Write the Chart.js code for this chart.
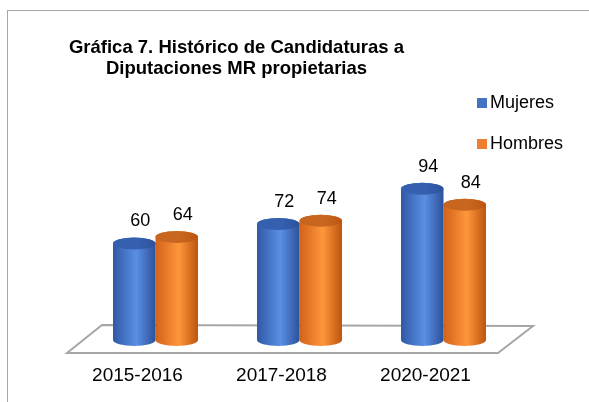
<!DOCTYPE html>
<html>
<head>
<meta charset="utf-8">
<script src="https://cdn.jsdelivr.net/npm/chart.js@4.4.0/dist/chart.umd.min.js"></script>
<style>
  html, body { margin: 0; padding: 0; background: #fff; }
</style>
</head>
<body>
<canvas id="grafica" width="589" height="402"></canvas>
<script>
const periodos = ['2015-2016', '2017-2018', '2020-2021'];
const mujeres = [60, 72, 94];
const hombres = [64, 74, 84];
const titulo = ['Gráfica 7. Histórico de Candidaturas a', 'Diputaciones MR propietarias'];

const FUENTE = '"Liberation Sans", Arial, sans-serif';

// cores: [borda esq, brilho, borda dir, tampa]
const coresMujeres = ['#2f59a6', '#5b8fe3', '#2c519a', '#3560b0'];
const coresHombres = ['#d2621a', '#ff963c', '#bd540e', '#c8661f'];

function cilindro(ctx, x, topo, base, w, cores) {
    const r = w / 2, ry = 6;
    const esq = x - r, dir = x + r;
    const g = ctx.createLinearGradient(esq, 0, dir, 0);
    g.addColorStop(0, cores[0]);
    g.addColorStop(0.55, cores[1]);
    g.addColorStop(1, cores[2]);
    ctx.beginPath();
    ctx.moveTo(esq, topo);
    ctx.lineTo(esq, base);
    ctx.ellipse(x, base, r, ry, 0, Math.PI, 0, true);
    ctx.lineTo(dir, topo);
    ctx.ellipse(x, topo, r, ry, 0, 0, -Math.PI, true);
    ctx.closePath();
    ctx.fillStyle = g;
    ctx.fill();

    // tampa
    const gt = ctx.createLinearGradient(esq, 0, dir, 0);
    gt.addColorStop(0, cores[3]);
    gt.addColorStop(0.6, cores[3]);
    gt.addColorStop(1, cores[2]);
    ctx.beginPath();
    ctx.ellipse(x, topo, r, ry, 0, 0, Math.PI * 2);
    ctx.fillStyle = gt;
    ctx.fill();
}

const desenho3D = {
    id: 'desenho3D',
    beforeDraw(chart) {
        const ctx = chart.ctx;
        ctx.save();
        // moldura
        ctx.strokeStyle = '#a6a6a6';
        ctx.lineWidth = 1;
        ctx.strokeRect(7.5, 10.5, 700, 500);

        // título
        ctx.fillStyle = '#000';
        ctx.font = 'bold 18.5px ' + FUENTE;
        ctx.textAlign = 'center';
        ctx.textBaseline = 'middle';
        ctx.fillText(titulo[0], 236.5, 48);
        ctx.fillText(titulo[1], 236.5, 69);

        // legenda
        ctx.font = '18px ' + FUENTE;
        ctx.textAlign = 'left';
        const itens = [
            { txt: chart.data.datasets[0].label, cor: chart.data.datasets[0].backgroundColor, y: 103 },
            { txt: chart.data.datasets[1].label, cor: chart.data.datasets[1].backgroundColor, y: 144 }
        ];
        itens.forEach(it => {
            ctx.fillStyle = it.cor;
            ctx.fillRect(477, it.y - 5, 10, 10);
            ctx.fillStyle = '#000';
            ctx.fillText(it.txt, 490, it.y);
        });
        ctx.restore();
    },
    beforeDatasetsDraw(chart) {
        const ctx = chart.ctx;
        const { left, right, bottom } = chart.chartArea;
        ctx.save();
        // piso
        ctx.beginPath();
        ctx.moveTo(left + 18.5, bottom - 15);
        ctx.lineTo(right + 17.5, bottom - 14);
        ctx.lineTo(right - 17.5, bottom + 13);
        ctx.lineTo(left - 16.5, bottom + 13);
        ctx.closePath();
        ctx.fillStyle = '#fff';
        ctx.fill();
        ctx.strokeStyle = '#a6a6a6';
        ctx.lineWidth = 2;
        ctx.stroke();

        // cilindros
        const m1 = chart.getDatasetMeta(1);
        const m0 = chart.getDatasetMeta(0);
        m1.data.forEach(b => cilindro(ctx, b.x, b.y, b.base, b.width, coresHombres));
        m0.data.forEach(b => cilindro(ctx, b.x, b.y, b.base, b.width, coresMujeres));
        ctx.restore();
        return false;
    },
    afterDraw(chart) {
        const ctx = chart.ctx;
        ctx.save();
        ctx.fillStyle = '#000';
        ctx.font = '18px ' + FUENTE;
        ctx.textAlign = 'center';
        ctx.textBaseline = 'middle';
        chart.data.datasets.forEach((ds, i) => {
            chart.getDatasetMeta(i).data.forEach((b, j) => {
                ctx.fillText(ds.data[j], b.x + 6, b.y - 22);
            });
        });
        ctx.restore();
    }
};

new Chart(document.getElementById('grafica'), {
    type: 'bar',
    data: {
        labels: periodos,
        datasets: [
            { label: 'Mujeres', data: mujeres, backgroundColor: '#4472c4' },
            { label: 'Hombres', data: hombres, backgroundColor: '#ed7d31' }
        ]
    },
    options: {
        responsive: false,
        animation: false,
        layout: { padding: { left: 83.5, right: 73.5, top: 179, bottom: 0 } },
        datasets: { bar: { barPercentage: 1, categoryPercentage: 0.59 } },
        plugins: {
            legend: { display: false },
            title: { display: false },
            tooltip: { enabled: false }
        },
        scales: {
            x: {
                grid: { display: false, drawTicks: false },
                border: { display: false },
                ticks: {
                    color: '#000',
                    font: { family: FUENTE, size: 19 },
                    padding: 24,
                    labelOffset: -18,
                    maxRotation: 0
                },
                afterFit(scale) { scale.height = 62; }
            },
            y: {
                display: false,
                min: 0,
                max: 100
            }
        }
    },
    plugins: [desenho3D]
});
</script>
</body>
</html>
